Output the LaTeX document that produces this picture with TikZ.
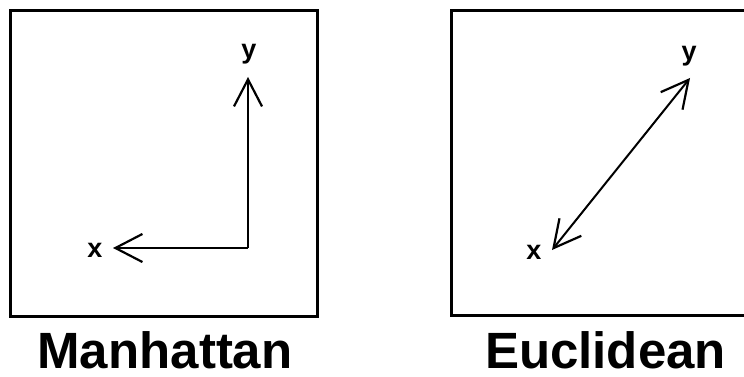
\documentclass[tikz,border=0pt]{standalone}
\usepackage{fontspec}
\setmainfont{Liberation Sans}
\usetikzlibrary{arrows.meta}
\tikzset{
  frame/.style={draw=black, line width=3pt},
  conn/.style={draw=black, line width=2pt, line join=miter},
  barb/.tip={Straight Barb[length=27pt,width=28pt,line width=2.2pt]},
  lbl/.style={font=\fontsize{27}{29}\selectfont\bfseries, inner sep=0pt},
  title/.style={font=\fontsize{51}{54}\selectfont\bfseries, inner sep=0pt, anchor=base}
}
\begin{document}
\begin{tikzpicture}[x=1pt,y=-1pt]
\useasboundingbox (0,0) rectangle (744,377);
\clip (0,0) rectangle (744,377);
\fill[white] (0,0) rectangle (744,377);
% left panel
\draw[frame] (10.5,10.5) rectangle (317,316);
\coordinate (mc) at (248,248);
\coordinate (mx) at (113,248);
\coordinate (my) at (248,77);
\draw[conn,-barb] (mc) -- (mx);
\draw[conn,-barb] (mc) -- (my);
\node[lbl] (mxl) at (95,250) {x};
\node[lbl] (myl) at (249,54) {y};
\node[title] (mt) at (165,368) {Manhattan};
% right panel
\draw[frame] (451,10.5) rectangle (770,315.5);
\coordinate (ex) at (552,250);
\coordinate (ey) at (690,78);
\draw[conn,barb-barb] (ex) -- (ey);
\node[lbl] (exl) at (534,252) {x};
\node[lbl] (eyl) at (689,56) {y};
\node[title] (et) at (605.5,368) {Euclidean};
\end{tikzpicture}
\end{document}
